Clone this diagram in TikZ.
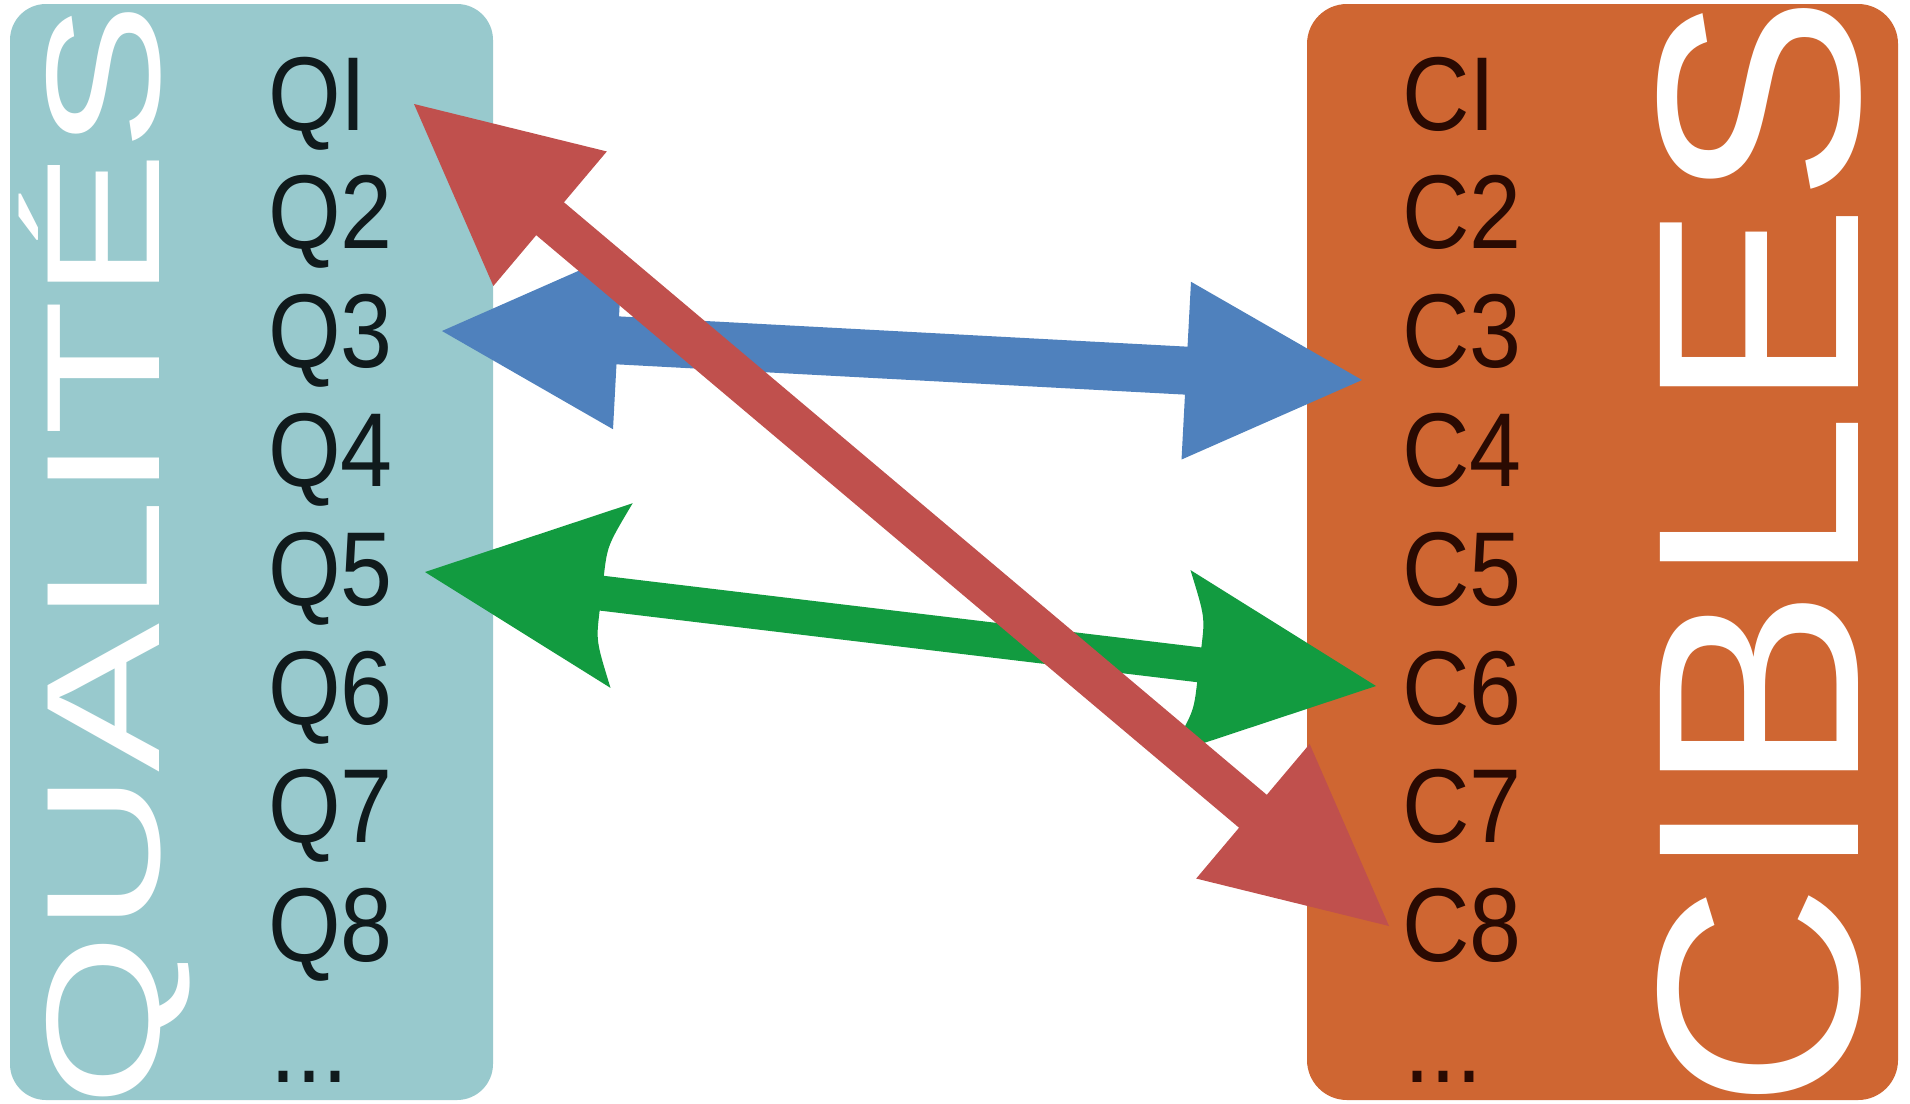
\documentclass[tikz,border=0pt]{standalone}
\usepackage{fontspec}
\setmainfont{Liberation Sans}
\usetikzlibrary{calc}
\definecolor{qteal}{HTML}{98C9CD}
\definecolor{corange}{HTML}{CF6632}
\definecolor{ablue}{HTML}{4F81BD}
\definecolor{ared}{HTML}{C0504D}
\definecolor{agreen}{HTML}{129B40}
\definecolor{qtext}{HTML}{101A1C}
\definecolor{ctext}{HTML}{2A0A02}
% #1 style, #2 start, #3 end, #4 half shaft, #5 barb distance, #6 junction distance, #7 half head, #8 control offset
\newcommand\BlkArrow[8]{%
  \coordinate (ha) at ($(#2)!#5!(#3)$);
  \coordinate (ja) at ($(#2)!#6!(#3)$);
  \coordinate (hb) at ($(#3)!#5!(#2)$);
  \coordinate (jb) at ($(#3)!#6!(#2)$);
  \fill[#1] (#2)
   -- ($(ha)!#7!-90:(#3)$)
   .. controls ($(ja)!#8!-90:(#3)$) .. ($(ja)!#4!-90:(#3)$)
   -- ($(jb)!#4!90:(#2)$)
   .. controls ($(jb)!#8!90:(#2)$) .. ($(hb)!#7!90:(#2)$)
   -- (#3)
   -- ($(hb)!#7!-90:(#2)$)
   .. controls ($(jb)!#8!-90:(#2)$) .. ($(jb)!#4!-90:(#2)$)
   -- ($(ja)!#4!90:(#3)$)
   .. controls ($(ja)!#8!90:(#3)$) .. ($(ha)!#7!90:(#3)$)
   -- cycle;
}
\begin{document}
\begin{tikzpicture}[x=1pt,y=-1pt,
  qlbl/.style={font=\fontsize{105}{105}\selectfont\addfontfeatures{FakeStretch=0.89}, inner sep=0pt, anchor=base west, text=qtext},
  clbl/.style={qlbl, text=ctext},
  bigtitle/.style={rotate=90, anchor=base, inner sep=0pt, text=white}]
\useasboundingbox[fill=white] (0,0) rectangle (1910,1103);
% boxes
\fill[qteal, rounded corners=36pt] (10,4) rectangle (493,1100);
\fill[corange, rounded corners=40pt] (1307,4) rectangle (1898,1100);
% big titles
\node[bigtitle, font=\fontsize{162}{162}\selectfont\addfontfeatures{FakeStretch=1.38}] (qt) at (159,555) {QUALITÉS};
\node[bigtitle, font=\fontsize{288}{288}\selectfont\addfontfeatures{FakeStretch=1.09}] (cb) at (1858,552) {CIBLES};
% labels
\node[qlbl] (q1) at (268,130) {QI};
\node[qlbl] (q2) at (268,248.8) {Q2};
\node[qlbl] (q3) at (268,367.6) {Q3};
\node[qlbl] (q4) at (268,486.4) {Q4};
\node[qlbl] (q5) at (268,605.2) {Q5};
\node[qlbl] (q6) at (268,724) {Q6};
\node[qlbl] (q7) at (268,842.8) {Q7};
\node[qlbl] (q8) at (268,961.6) {Q8};
\node[qlbl] (q9) at (270,1082) {...};
\node[clbl] (c1) at (1402,130) {CI};
\node[clbl] (c2) at (1402,248.8) {C2};
\node[clbl] (c3) at (1402,367.6) {C3};
\node[clbl] (c4) at (1402,486.4) {C4};
\node[clbl] (c5) at (1402,605.2) {C5};
\node[clbl] (c6) at (1402,724) {C6};
\node[clbl] (c7) at (1402,842.8) {C7};
\node[clbl] (c8) at (1402,961.6) {C8};
\node[clbl] (c9) at (1404,1082) {...};
% arrow ends
\coordinate (blueL) at (442,331);
\coordinate (blueR) at (1362,380);
\coordinate (greenL) at (425,572);
\coordinate (greenR) at (1376,686);
\coordinate (redL) at (414,104);
\coordinate (redR) at (1389,926);
% arrows
\BlkArrow{ablue}{blueL}{blueR}{24pt}{176pt}{176pt}{89pt}{50pt}
\BlkArrow{agreen}{greenL}{greenR}{17.5pt}{198pt}{178pt}{93pt}{48pt}
\BlkArrow{ared}{redL}{redR}{21.5pt}{178pt}{178pt}{88pt}{50pt}
\end{tikzpicture}
\end{document}
